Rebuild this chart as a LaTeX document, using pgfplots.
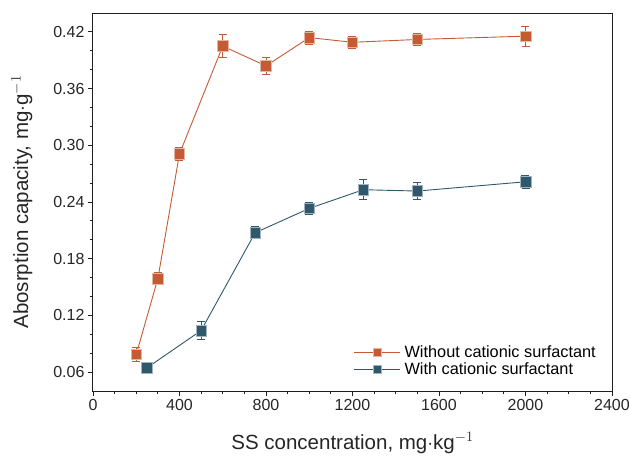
\documentclass[border=0pt]{standalone}
\usepackage{fontspec}
\setmainfont{Liberation Sans}
\usepackage{pgfplots}
\pgfplotsset{compat=1.18}
\definecolor{cOr}{RGB}{198,90,52}
\definecolor{cBl}{RGB}{47,88,108}
\definecolor{cAx}{RGB}{35,30,30}
\begin{document}
\begin{tikzpicture}
\useasboundingbox (-93pt,-68pt) rectangle (537pt,391pt);
\begin{axis}[
  at={(0pt,0pt)}, anchor=south west,
  scale only axis, width=519pt, height=378pt,
  xmin=0, xmax=2400, ymin=0.04, ymax=0.44,
  xtick={0,400,...,2400}, minor x tick num=3,
  ytick={0.06,0.12,...,0.43}, minor y tick num=2,
  tick pos=left, tick align=outside,
  major tick length=5pt, minor tick length=3pt,
  every tick/.style={cAx, line width=0.9pt},
  axis line style={cAx, line width=1pt},
  /pgf/number format/assume math mode=true,
  yticklabel style={/pgf/number format/.cd, fixed, fixed zerofill, precision=2},
  xticklabel style={/pgf/number format/.cd, fixed, 1000 sep={}},
  ticklabel style={font=\fontsize{16}{19}\selectfont, text=black!85},
  xlabel={SS concentration, mg$\cdot$kg$^{-1}$},
  ylabel={Abosrption capacity, mg$\cdot$g$^{-1}$},
  every axis x label/.style={at={(axis description cs:0.5,-0.137)}, anchor=center, font=\fontsize{20.5}{23}\selectfont, text=black!85},
  every axis y label/.style={at={(axis description cs:-0.137,0.5)}, anchor=center, rotate=90, font=\fontsize{20.5}{23}\selectfont, text=black!85},
  legend style={at={(axis description cs:0.5,0.128)}, anchor=north west, draw=none, fill=none,
    font=\fontsize{16.3}{18}\selectfont, row sep=0pt, inner sep=1pt,
    nodes={inner xsep=4pt}},
  legend cell align=left,
  legend image code/.code={\draw[mark repeat=2, mark phase=2, #1, mark size=4pt] plot coordinates {(0pt,0pt) (23pt,0pt) (46pt,0pt)};},
]
\addplot+[cOr, line width=0.9pt, mark=square*, mark size=5.3pt,
  mark options={fill=cOr, draw=cOr!45!white, line width=0.6pt},
  error bars/.cd, y dir=both, y explicit,
  error bar style={cOr, line width=0.9pt},
  error mark options={rotate=90, mark size=4pt, cOr, line width=0.9pt}]
  coordinates {
  (200,0.0787) +- (0,0.0074)
  (300,0.159) +- (0,0.0065)
  (400,0.291) +- (0,0.0065)
  (600,0.405) +- (0,0.0125)
  (800,0.384) +- (0,0.0085)
  (1000,0.414) +- (0,0.007)
  (1200,0.409) +- (0,0.0060)
  (1500,0.412) +- (0,0.0065)
  (2000,0.4155) +- (0,0.0105)
  };
\addlegendentry{Without cationic surfactant}
\addplot+[cBl, line width=0.9pt, mark=square*, mark size=5.3pt,
  mark options={fill=cBl, draw=cBl!45!white, line width=0.6pt},
  error bars/.cd, y dir=both, y explicit,
  error bar style={cBl, line width=0.9pt},
  error mark options={rotate=90, mark size=4pt, cBl, line width=0.9pt}]
  coordinates {
  (250,0.0646) +- (0,0.003)
  (500,0.104) +- (0,0.0095)
  (750,0.2075) +- (0,0.0065)
  (1000,0.2332) +- (0,0.006)
  (1250,0.253) +- (0,0.0104)
  (1500,0.2516) +- (0,0.009)
  (2000,0.2614) +- (0,0.007)
  };
\addlegendentry{With cationic surfactant}
\end{axis}
\end{tikzpicture}
\end{document}
